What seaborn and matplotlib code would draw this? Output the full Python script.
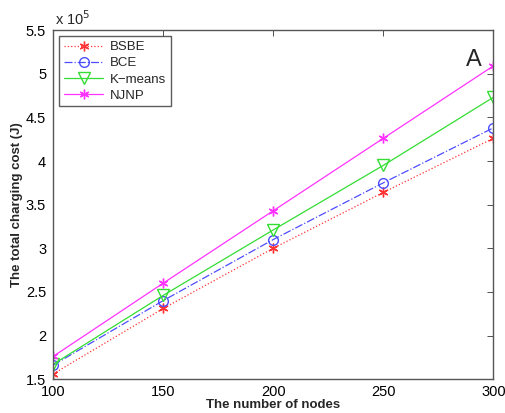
import matplotlib
matplotlib.use("Agg")
import matplotlib.pyplot as plt
import seaborn as sns
import pandas as pd

nodes = [100, 150, 200, 250, 300]
bsbe = [1.56, 2.31, 3.00, 3.64, 4.26]
bce = [1.66, 2.40, 3.10, 3.75, 4.38]
kmeans = [1.67, 2.46, 3.21, 3.95, 4.73]
njnp = [1.76, 2.60, 3.43, 4.26, 5.09]
series_names = ["BSBE", "BCE", "K\u2212means", "NJNP"]
x_ticks = [100, 150, 200, 250, 300]
y_ticks = [1.5, 2, 2.5, 3, 3.5, 4, 4.5, 5, 5.5]

sns.set_style("white")
plt.rcParams['font.family'] = ['Liberation Sans', 'DejaVu Sans']

fig = plt.figure(figsize=(5.06, 4.13), dpi=100)
ax = fig.add_axes([0.105, 0.082, 0.870, 0.845])

styles = [
    dict(color="#ff3333", linestyle=":", marker=(6, 2, 0), markersize=7),
    dict(color="#4d4dff", linestyle="-.", marker="o", markersize=7),
    dict(color="#33dd33", linestyle="-", marker="v", markersize=8),
    dict(color="#ff33ff", linestyle="-", marker=(6, 2, 0), markersize=7),
]
data = [bsbe, bce, kmeans, njnp]
for name, vals, st in zip(series_names, data, styles):
    df = pd.DataFrame({"x": nodes, "y": vals})
    sns.lineplot(data=df, x="x", y="y", ax=ax, label=name, color=st["color"],
                 linestyle=st["linestyle"], marker=st["marker"], markersize=st["markersize"],
                 markerfacecolor="none", markeredgecolor=st["color"], markeredgewidth=1.0,
                 linewidth=0.9)

ax.set_xlim(100, 300)
ax.set_ylim(1.5, 5.5)
ax.set_xticks(x_ticks)
ax.set_yticks(y_ticks)
ax.set_yticklabels([f"{t:g}" for t in y_ticks])
ax.tick_params(direction="in", top=True, right=True, labelsize=10.5, length=4, width=0.6,
               colors="#333333", labelcolor="black")
ax.tick_params(axis="x", pad=4)
ax.tick_params(axis="y", pad=5)
for s in ax.spines.values():
    s.set_color("#555555")
    s.set_linewidth(1.0)

ax.set_xlabel("The number of nodes", fontsize=9.5, fontweight="bold", labelpad=0)
ax.set_ylabel("The total charging cost (J)", fontsize=9.5, fontweight="bold", labelpad=2)

ax.text(0.005, 1.005, r"x 10$^5$", transform=ax.transAxes, fontsize=10.5, ha="left", va="bottom")
ax.text(0.955, 0.915, "A", transform=ax.transAxes, fontsize=17, ha="center", va="center")

leg = ax.legend(loc="upper left", bbox_to_anchor=(0.008, 0.99), fontsize=9.5, frameon=True,
                fancybox=False, edgecolor="#333333", handlelength=3.0, borderpad=0.35,
                labelspacing=0.3, handletextpad=0.5, borderaxespad=0.2)
leg.get_frame().set_linewidth(1.0)

fig.savefig("out.png", dpi=100)
